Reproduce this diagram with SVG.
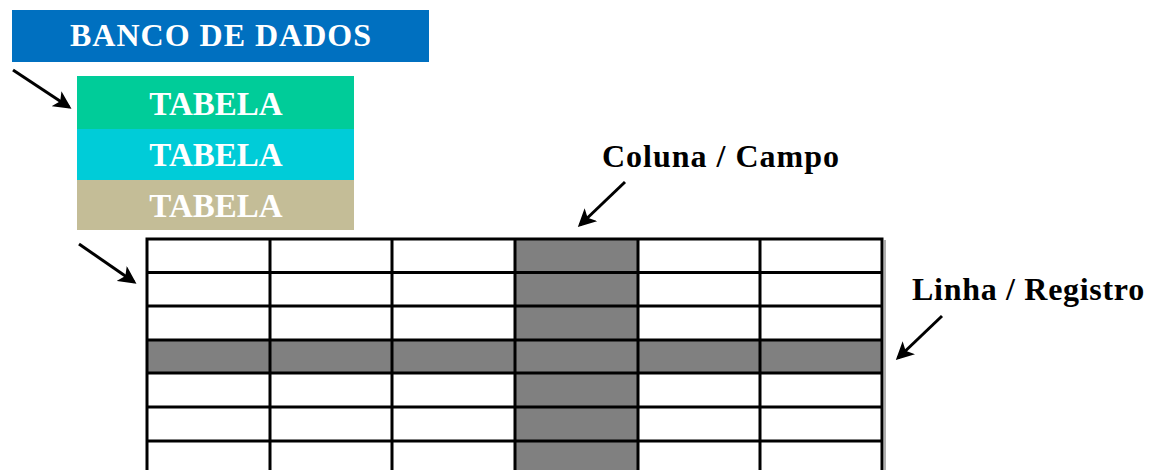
<svg xmlns="http://www.w3.org/2000/svg" width="1154" height="470" viewBox="0 0 1154 470">
  <style>
    .hdr { font-family: "Liberation Serif", "Times New Roman", serif; font-weight: bold; fill: #ffffff; text-anchor: middle; }
    .lbl { font-family: "Liberation Serif", "Times New Roman", serif; font-weight: bold; fill: #000000; font-size: 32px; }
    .arrow { stroke: #000; stroke-width: 3; fill: none; marker-end: url(#head); }
    .grid { stroke: #000; stroke-width: 3; fill: none; }
    .hl { fill: #808080; }
  </style>
  <defs>
    <marker id="head" markerWidth="6" markerHeight="6" refX="5" refY="3" orient="auto" markerUnits="strokeWidth">
      <path d="M0,0 L6,3 L0,6 L1.5,3 Z" fill="#000"/>
    </marker>
  </defs>

  <rect width="1154" height="470" fill="#ffffff"/>

  <g id="banco-de-dados">
    <rect x="12" y="10" width="417" height="52" fill="#0070C0"/>
    <text class="hdr" x="221" y="46" font-size="32" letter-spacing="1">BANCO DE DADOS</text>
  </g>

  <g id="tabela-1">
    <rect x="77" y="76" width="277" height="53" fill="#00CC99"/>
    <text class="hdr" x="216" y="115" font-size="33">TABELA</text>
  </g>
  <g id="tabela-2">
    <rect x="77" y="129" width="277" height="51" fill="#00CCD8"/>
    <text class="hdr" x="216" y="166" font-size="33">TABELA</text>
  </g>
  <g id="tabela-3">
    <rect x="77" y="180" width="277" height="50" fill="#C4BD97"/>
    <text class="hdr" x="216" y="217" font-size="33">TABELA</text>
  </g>

  <g id="tabela-grade">
    <!-- highlighted column (field) and row (record) -->
    <rect class="hl" x="515" y="239" width="123" height="240"/>
    <rect class="hl" x="147" y="340" width="735" height="33"/>
    <!-- soft edge on the right -->
    <line x1="885" y1="240" x2="885" y2="470" stroke="#b0b0b0" stroke-width="2"/>
    <!-- outer frame and grid lines -->
    <path class="grid" d="M147,480 V239 H882 V480"/>
    <path class="grid" d="M270,239 V480 M392,239 V480 M515,239 V480 M638,239 V480 M760,239 V480"/>
    <path class="grid" d="M147,272.5 H882 M147,306 H882 M147,340 H882 M147,373 H882 M147,407 H882 M147,441 H882"/>
  </g>

  <g id="rotulo-coluna">
    <text class="lbl" x="602" y="167" letter-spacing="1">Coluna / Campo</text>
  </g>
  <g id="rotulo-linha">
    <text class="lbl" x="912" y="300" letter-spacing="0.7">Linha / Registro</text>
  </g>

  <g id="conectores">
    <line class="arrow" x1="13" y1="70" x2="69" y2="107"/>
    <line class="arrow" x1="79" y1="244" x2="134" y2="282"/>
    <line class="arrow" x1="625" y1="182" x2="580" y2="225"/>
    <line class="arrow" x1="942" y1="316" x2="898" y2="358"/>
  </g>
</svg>
